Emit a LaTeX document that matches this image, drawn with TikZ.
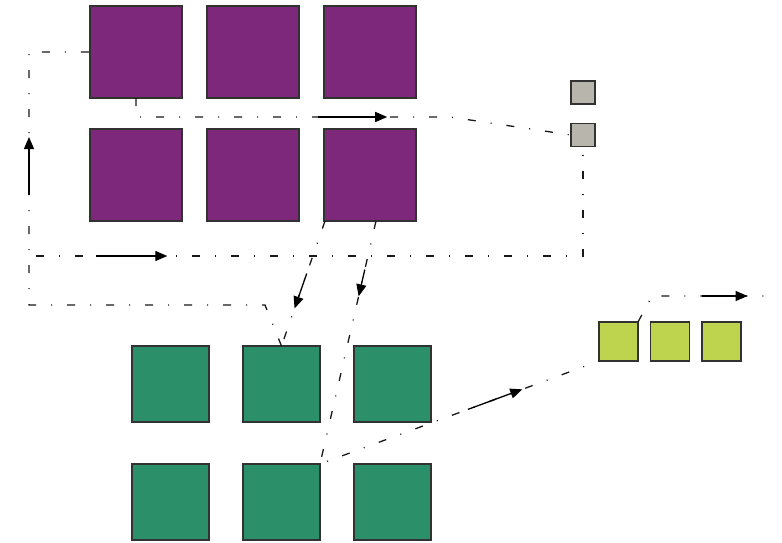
\documentclass[tikz,border=0pt]{standalone}
\usetikzlibrary{arrows.meta,calc}
\definecolor{purp}{RGB}{125,40,122}
\definecolor{grn}{RGB}{43,143,106}
\definecolor{ylw}{RGB}{190,212,78}
\definecolor{gry}{RGB}{183,181,172}
\definecolor{edge}{RGB}{50,50,50}
\tikzset{
  sq/.style={draw=edge,line width=1.2pt,inner sep=0pt,outer sep=0pt},
  psq/.style={sq,fill=purp,minimum width=92pt,minimum height=92pt},
  gsq/.style={sq,fill=grn,minimum width=77pt,minimum height=76pt},
  ysq/.style={sq,fill=ylw,minimum width=39pt,minimum height=39pt},
  gysq/.style={sq,fill=gry,minimum width=24pt,minimum height=23pt},
  flow/.style={line width=1.3pt,black!90,dash pattern=on 8pt off 15pt on 1pt off 15pt},
  arr/.style={line width=1.3pt,black,-{Triangle[length=12pt,width=10pt]}}
}
\begin{document}
\begin{tikzpicture}[x=1pt,y=-1pt]
\useasboundingbox (0,0) rectangle (782,543);
% purple squares
\node[psq] (p1) at (136,52) {};
\node[psq] (p2) at (253,52) {};
\node[psq] (p3) at (370,52) {};
\node[psq] (p4) at (136,175) {};
\node[psq] (p5) at (253,175) {};
\node[psq] (p6) at (370,175) {};
% grey squares
\node[gysq] (q1) at (583,92.5) {};
\node[gysq] (q2) at (583,135) {};
% green squares
\node[gsq] (g1) at (170.5,384) {};
\node[gsq] (g2) at (281.5,384) {};
\node[gsq] (g3) at (392.5,384) {};
\node[gsq] (g4) at (170.5,502) {};
\node[gsq] (g5) at (281.5,502) {};
\node[gsq] (g6) at (392.5,502) {};
% yellow squares
\node[ysq] (y1) at (618.5,341.5) {};
\node[ysq] (y2) at (670,341.5) {};
\node[ysq] (y3) at (721.5,341.5) {};
% helper coordinates
\coordinate (a1) at (265,305);
\coordinate (a2) at (29,305);
\coordinate (a3) at (29,52);
\coordinate (b1) at (136,117);
\coordinate (b2) at (450,117);
\coordinate (c0) at (36,256);
\coordinate (c1) at (583,256);
\coordinate (d0) at (325,221);
\coordinate (e0) at (376,221);
\coordinate (f1) at (652,296);
\coordinate (f2) at (770,296);
% flows
\draw[flow] (g2.north) -- (a1) -- (a2) -- (a3) -- (p1.west);
\draw[arr] (29,195) -- (29,137);
\draw[flow] (p1.south) -- (b1) -- (b2) -- (q2.west);
\draw[arr] ($(b1)!0.58!(b2)$) -- ($(b1)!0.80!(b2)$);
\draw[flow] (c0) -- (c1) -- (q2.south);
\draw[arr] ($(c0)!0.11!(c1)$) -- ($(c0)!0.24!(c1)$);
\draw[flow] (d0) -- (g2.north);
\draw[arr] ($(d0)!0.42!(g2.north)$) -- ($(d0)!0.70!(g2.north)$);
\draw[flow] (e0) -- (g5.north east) -- (y1.south west);
\draw[arr] ($(e0)!0.20!(g5.north east)$) -- ($(e0)!0.31!(g5.north east)$);
\draw[arr] ($(g5.north east)!0.53!(y1.south west)$) -- ($(g5.north east)!0.725!(y1.south west)$);
\draw[flow] (y1.north east) -- (f1) -- (f2);
\draw[arr] ($(f1)!0.42!(f2)$) -- ($(f1)!0.81!(f2)$);
\end{tikzpicture}
\end{document}
